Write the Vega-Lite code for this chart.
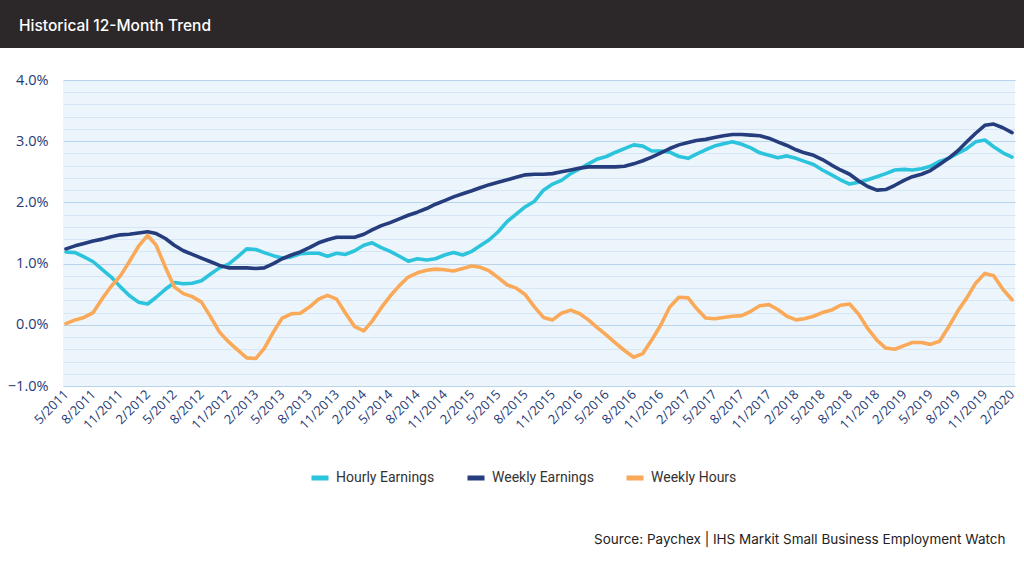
{
  "$schema": "https://vega.github.io/schema/vega-lite/v6.json",
  "autosize": "none",
  "width": 952,
  "height": 306,
  "padding": {"left": 63, "top": 80, "right": 9, "bottom": 176},
  "background": "white",
  "title": {"text": "Historical 12-Month Trend", "anchor": "start", "frame": "group", "color": "#ffffff", "fontSize": 15.5, "font": "Inter", "fontWeight": 500, "baseline": "alphabetic", "offset": -47, "dx": -44},
  "layer": [
    {
      "data": {"values": [
        {"d":"2011-05-01","Hourly Earnings":1.19,"Weekly Earnings":1.24,"Weekly Hours":0.02},
        {"d":"2011-06-01","Hourly Earnings":1.18,"Weekly Earnings":1.29,"Weekly Hours":0.08},
        {"d":"2011-07-01","Hourly Earnings":1.11,"Weekly Earnings":1.33,"Weekly Hours":0.12},
        {"d":"2011-08-01","Hourly Earnings":1.03,"Weekly Earnings":1.37,"Weekly Hours":0.20},
        {"d":"2011-09-01","Hourly Earnings":0.90,"Weekly Earnings":1.40,"Weekly Hours":0.43},
        {"d":"2011-10-01","Hourly Earnings":0.78,"Weekly Earnings":1.44,"Weekly Hours":0.63},
        {"d":"2011-11-01","Hourly Earnings":0.62,"Weekly Earnings":1.47,"Weekly Hours":0.80},
        {"d":"2011-12-01","Hourly Earnings":0.48,"Weekly Earnings":1.48,"Weekly Hours":1.03},
        {"d":"2012-01-01","Hourly Earnings":0.37,"Weekly Earnings":1.50,"Weekly Hours":1.28},
        {"d":"2012-02-01","Hourly Earnings":0.34,"Weekly Earnings":1.52,"Weekly Hours":1.46},
        {"d":"2012-03-01","Hourly Earnings":0.45,"Weekly Earnings":1.49,"Weekly Hours":1.30},
        {"d":"2012-04-01","Hourly Earnings":0.58,"Weekly Earnings":1.41,"Weekly Hours":0.94},
        {"d":"2012-05-01","Hourly Earnings":0.69,"Weekly Earnings":1.30,"Weekly Hours":0.62},
        {"d":"2012-06-01","Hourly Earnings":0.67,"Weekly Earnings":1.21,"Weekly Hours":0.51},
        {"d":"2012-07-01","Hourly Earnings":0.68,"Weekly Earnings":1.15,"Weekly Hours":0.46},
        {"d":"2012-08-01","Hourly Earnings":0.72,"Weekly Earnings":1.09,"Weekly Hours":0.37},
        {"d":"2012-09-01","Hourly Earnings":0.83,"Weekly Earnings":1.03,"Weekly Hours":0.13},
        {"d":"2012-10-01","Hourly Earnings":0.93,"Weekly Earnings":0.97,"Weekly Hours":-0.12},
        {"d":"2012-11-01","Hourly Earnings":0.99,"Weekly Earnings":0.93,"Weekly Hours":-0.28},
        {"d":"2012-12-01","Hourly Earnings":1.11,"Weekly Earnings":0.93,"Weekly Hours":-0.41},
        {"d":"2013-01-01","Hourly Earnings":1.24,"Weekly Earnings":0.93,"Weekly Hours":-0.54},
        {"d":"2013-02-01","Hourly Earnings":1.23,"Weekly Earnings":0.92,"Weekly Hours":-0.55},
        {"d":"2013-03-01","Hourly Earnings":1.18,"Weekly Earnings":0.93,"Weekly Hours":-0.39},
        {"d":"2013-04-01","Hourly Earnings":1.13,"Weekly Earnings":1.00,"Weekly Hours":-0.12},
        {"d":"2013-05-01","Hourly Earnings":1.09,"Weekly Earnings":1.08,"Weekly Hours":0.11},
        {"d":"2013-06-01","Hourly Earnings":1.11,"Weekly Earnings":1.14,"Weekly Hours":0.18},
        {"d":"2013-07-01","Hourly Earnings":1.16,"Weekly Earnings":1.19,"Weekly Hours":0.19},
        {"d":"2013-08-01","Hourly Earnings":1.17,"Weekly Earnings":1.26,"Weekly Hours":0.29},
        {"d":"2013-09-01","Hourly Earnings":1.17,"Weekly Earnings":1.34,"Weekly Hours":0.42},
        {"d":"2013-10-01","Hourly Earnings":1.12,"Weekly Earnings":1.39,"Weekly Hours":0.48},
        {"d":"2013-11-01","Hourly Earnings":1.17,"Weekly Earnings":1.43,"Weekly Hours":0.42},
        {"d":"2013-12-01","Hourly Earnings":1.15,"Weekly Earnings":1.43,"Weekly Hours":0.19},
        {"d":"2014-01-01","Hourly Earnings":1.21,"Weekly Earnings":1.43,"Weekly Hours":-0.03},
        {"d":"2014-02-01","Hourly Earnings":1.30,"Weekly Earnings":1.48,"Weekly Hours":-0.10},
        {"d":"2014-03-01","Hourly Earnings":1.34,"Weekly Earnings":1.55,"Weekly Hours":0.06},
        {"d":"2014-04-01","Hourly Earnings":1.26,"Weekly Earnings":1.62,"Weekly Hours":0.28},
        {"d":"2014-05-01","Hourly Earnings":1.20,"Weekly Earnings":1.67,"Weekly Hours":0.47},
        {"d":"2014-06-01","Hourly Earnings":1.12,"Weekly Earnings":1.73,"Weekly Hours":0.64},
        {"d":"2014-07-01","Hourly Earnings":1.04,"Weekly Earnings":1.79,"Weekly Hours":0.78},
        {"d":"2014-08-01","Hourly Earnings":1.08,"Weekly Earnings":1.84,"Weekly Hours":0.85},
        {"d":"2014-09-01","Hourly Earnings":1.06,"Weekly Earnings":1.90,"Weekly Hours":0.89},
        {"d":"2014-10-01","Hourly Earnings":1.08,"Weekly Earnings":1.97,"Weekly Hours":0.91},
        {"d":"2014-11-01","Hourly Earnings":1.14,"Weekly Earnings":2.03,"Weekly Hours":0.90},
        {"d":"2014-12-01","Hourly Earnings":1.18,"Weekly Earnings":2.09,"Weekly Hours":0.88},
        {"d":"2015-01-01","Hourly Earnings":1.14,"Weekly Earnings":2.14,"Weekly Hours":0.92},
        {"d":"2015-02-01","Hourly Earnings":1.20,"Weekly Earnings":2.19,"Weekly Hours":0.96},
        {"d":"2015-03-01","Hourly Earnings":1.29,"Weekly Earnings":2.24,"Weekly Hours":0.94},
        {"d":"2015-04-01","Hourly Earnings":1.39,"Weekly Earnings":2.29,"Weekly Hours":0.88},
        {"d":"2015-05-01","Hourly Earnings":1.52,"Weekly Earnings":2.33,"Weekly Hours":0.77},
        {"d":"2015-06-01","Hourly Earnings":1.69,"Weekly Earnings":2.37,"Weekly Hours":0.65},
        {"d":"2015-07-01","Hourly Earnings":1.81,"Weekly Earnings":2.41,"Weekly Hours":0.60},
        {"d":"2015-08-01","Hourly Earnings":1.93,"Weekly Earnings":2.45,"Weekly Hours":0.49},
        {"d":"2015-09-01","Hourly Earnings":2.02,"Weekly Earnings":2.46,"Weekly Hours":0.29},
        {"d":"2015-10-01","Hourly Earnings":2.20,"Weekly Earnings":2.46,"Weekly Hours":0.12},
        {"d":"2015-11-01","Hourly Earnings":2.30,"Weekly Earnings":2.47,"Weekly Hours":0.08},
        {"d":"2015-12-01","Hourly Earnings":2.36,"Weekly Earnings":2.50,"Weekly Hours":0.19},
        {"d":"2016-01-01","Hourly Earnings":2.47,"Weekly Earnings":2.53,"Weekly Hours":0.24},
        {"d":"2016-02-01","Hourly Earnings":2.55,"Weekly Earnings":2.56,"Weekly Hours":0.18},
        {"d":"2016-03-01","Hourly Earnings":2.63,"Weekly Earnings":2.58,"Weekly Hours":0.08},
        {"d":"2016-04-01","Hourly Earnings":2.71,"Weekly Earnings":2.58,"Weekly Hours":-0.05},
        {"d":"2016-05-01","Hourly Earnings":2.75,"Weekly Earnings":2.58,"Weekly Hours":-0.17},
        {"d":"2016-06-01","Hourly Earnings":2.82,"Weekly Earnings":2.58,"Weekly Hours":-0.30},
        {"d":"2016-07-01","Hourly Earnings":2.88,"Weekly Earnings":2.59,"Weekly Hours":-0.42},
        {"d":"2016-08-01","Hourly Earnings":2.94,"Weekly Earnings":2.63,"Weekly Hours":-0.53},
        {"d":"2016-09-01","Hourly Earnings":2.92,"Weekly Earnings":2.68,"Weekly Hours":-0.47},
        {"d":"2016-10-01","Hourly Earnings":2.84,"Weekly Earnings":2.74,"Weekly Hours":-0.25},
        {"d":"2016-11-01","Hourly Earnings":2.84,"Weekly Earnings":2.81,"Weekly Hours":0.00},
        {"d":"2016-12-01","Hourly Earnings":2.82,"Weekly Earnings":2.88,"Weekly Hours":0.29},
        {"d":"2017-01-01","Hourly Earnings":2.75,"Weekly Earnings":2.94,"Weekly Hours":0.45},
        {"d":"2017-02-01","Hourly Earnings":2.72,"Weekly Earnings":2.98,"Weekly Hours":0.44},
        {"d":"2017-03-01","Hourly Earnings":2.79,"Weekly Earnings":3.01,"Weekly Hours":0.27},
        {"d":"2017-04-01","Hourly Earnings":2.86,"Weekly Earnings":3.03,"Weekly Hours":0.11},
        {"d":"2017-05-01","Hourly Earnings":2.92,"Weekly Earnings":3.06,"Weekly Hours":0.10},
        {"d":"2017-06-01","Hourly Earnings":2.96,"Weekly Earnings":3.09,"Weekly Hours":0.12},
        {"d":"2017-07-01","Hourly Earnings":2.99,"Weekly Earnings":3.11,"Weekly Hours":0.14},
        {"d":"2017-08-01","Hourly Earnings":2.95,"Weekly Earnings":3.11,"Weekly Hours":0.15},
        {"d":"2017-09-01","Hourly Earnings":2.89,"Weekly Earnings":3.10,"Weekly Hours":0.22},
        {"d":"2017-10-01","Hourly Earnings":2.81,"Weekly Earnings":3.09,"Weekly Hours":0.31},
        {"d":"2017-11-01","Hourly Earnings":2.77,"Weekly Earnings":3.05,"Weekly Hours":0.33},
        {"d":"2017-12-01","Hourly Earnings":2.73,"Weekly Earnings":2.99,"Weekly Hours":0.25},
        {"d":"2018-01-01","Hourly Earnings":2.76,"Weekly Earnings":2.93,"Weekly Hours":0.14},
        {"d":"2018-02-01","Hourly Earnings":2.72,"Weekly Earnings":2.86,"Weekly Hours":0.08},
        {"d":"2018-03-01","Hourly Earnings":2.67,"Weekly Earnings":2.81,"Weekly Hours":0.10},
        {"d":"2018-04-01","Hourly Earnings":2.62,"Weekly Earnings":2.77,"Weekly Hours":0.14},
        {"d":"2018-05-01","Hourly Earnings":2.53,"Weekly Earnings":2.70,"Weekly Hours":0.20},
        {"d":"2018-06-01","Hourly Earnings":2.45,"Weekly Earnings":2.61,"Weekly Hours":0.24},
        {"d":"2018-07-01","Hourly Earnings":2.37,"Weekly Earnings":2.53,"Weekly Hours":0.32},
        {"d":"2018-08-01","Hourly Earnings":2.30,"Weekly Earnings":2.46,"Weekly Hours":0.34},
        {"d":"2018-09-01","Hourly Earnings":2.33,"Weekly Earnings":2.35,"Weekly Hours":0.17},
        {"d":"2018-10-01","Hourly Earnings":2.37,"Weekly Earnings":2.26,"Weekly Hours":-0.06},
        {"d":"2018-11-01","Hourly Earnings":2.42,"Weekly Earnings":2.20,"Weekly Hours":-0.25},
        {"d":"2018-12-01","Hourly Earnings":2.47,"Weekly Earnings":2.21,"Weekly Hours":-0.38},
        {"d":"2019-01-01","Hourly Earnings":2.53,"Weekly Earnings":2.28,"Weekly Hours":-0.40},
        {"d":"2019-02-01","Hourly Earnings":2.54,"Weekly Earnings":2.36,"Weekly Hours":-0.34},
        {"d":"2019-03-01","Hourly Earnings":2.53,"Weekly Earnings":2.42,"Weekly Hours":-0.29},
        {"d":"2019-04-01","Hourly Earnings":2.55,"Weekly Earnings":2.46,"Weekly Hours":-0.29},
        {"d":"2019-05-01","Hourly Earnings":2.59,"Weekly Earnings":2.52,"Weekly Hours":-0.32},
        {"d":"2019-06-01","Hourly Earnings":2.67,"Weekly Earnings":2.62,"Weekly Hours":-0.27},
        {"d":"2019-07-01","Hourly Earnings":2.72,"Weekly Earnings":2.72,"Weekly Hours":-0.04},
        {"d":"2019-08-01","Hourly Earnings":2.80,"Weekly Earnings":2.84,"Weekly Hours":0.22},
        {"d":"2019-09-01","Hourly Earnings":2.88,"Weekly Earnings":2.99,"Weekly Hours":0.44},
        {"d":"2019-10-01","Hourly Earnings":2.99,"Weekly Earnings":3.13,"Weekly Hours":0.68},
        {"d":"2019-11-01","Hourly Earnings":3.02,"Weekly Earnings":3.26,"Weekly Hours":0.84},
        {"d":"2019-12-01","Hourly Earnings":2.91,"Weekly Earnings":3.28,"Weekly Hours":0.80},
        {"d":"2020-01-01","Hourly Earnings":2.81,"Weekly Earnings":3.22,"Weekly Hours":0.58},
        {"d":"2020-02-01","Hourly Earnings":2.74,"Weekly Earnings":3.14,"Weekly Hours":0.41}
      ]},
      "transform": [
        {"fold": ["Hourly Earnings", "Weekly Earnings", "Weekly Hours"], "as": ["series", "value"]}
      ],
      "mark": {"type": "line", "strokeWidth": 3.6, "strokeJoin": "round", "strokeCap": "round"},
      "encoding": {
        "x": {
          "field": "d", "type": "temporal",
          "scale": {"type": "utc", "domain": [{"year": 2011, "month": 4, "date": 21, "utc": true}, {"year": 2020, "month": 2, "date": 11, "utc": true}], "nice": false},
          "axis": {
            "title": "Source: Paychex | IHS Markit Small Business Employment Watch",
            "titleAnchor": "end", "titleAlign": "right", "titleX": 942, "titleY": 157, "titleBaseline": "alphabetic",
            "titleFont": "Inter", "titleFontSize": 13.5, "titleFontWeight": "normal", "titleColor": "#222222",
            "tickCount": 60,
            "values": [
              {"year": 2011, "month": 5, "date": 1, "utc": true}, {"year": 2011, "month": 8, "date": 1, "utc": true}, {"year": 2011, "month": 11, "date": 1, "utc": true},
              {"year": 2012, "month": 2, "date": 1, "utc": true}, {"year": 2012, "month": 5, "date": 1, "utc": true}, {"year": 2012, "month": 8, "date": 1, "utc": true}, {"year": 2012, "month": 11, "date": 1, "utc": true},
              {"year": 2013, "month": 2, "date": 1, "utc": true}, {"year": 2013, "month": 5, "date": 1, "utc": true}, {"year": 2013, "month": 8, "date": 1, "utc": true}, {"year": 2013, "month": 11, "date": 1, "utc": true},
              {"year": 2014, "month": 2, "date": 1, "utc": true}, {"year": 2014, "month": 5, "date": 1, "utc": true}, {"year": 2014, "month": 8, "date": 1, "utc": true}, {"year": 2014, "month": 11, "date": 1, "utc": true},
              {"year": 2015, "month": 2, "date": 1, "utc": true}, {"year": 2015, "month": 5, "date": 1, "utc": true}, {"year": 2015, "month": 8, "date": 1, "utc": true}, {"year": 2015, "month": 11, "date": 1, "utc": true},
              {"year": 2016, "month": 2, "date": 1, "utc": true}, {"year": 2016, "month": 5, "date": 1, "utc": true}, {"year": 2016, "month": 8, "date": 1, "utc": true}, {"year": 2016, "month": 11, "date": 1, "utc": true},
              {"year": 2017, "month": 2, "date": 1, "utc": true}, {"year": 2017, "month": 5, "date": 1, "utc": true}, {"year": 2017, "month": 8, "date": 1, "utc": true}, {"year": 2017, "month": 11, "date": 1, "utc": true},
              {"year": 2018, "month": 2, "date": 1, "utc": true}, {"year": 2018, "month": 5, "date": 1, "utc": true}, {"year": 2018, "month": 8, "date": 1, "utc": true}, {"year": 2018, "month": 11, "date": 1, "utc": true},
              {"year": 2019, "month": 2, "date": 1, "utc": true}, {"year": 2019, "month": 5, "date": 1, "utc": true}, {"year": 2019, "month": 8, "date": 1, "utc": true}, {"year": 2019, "month": 11, "date": 1, "utc": true},
              {"year": 2020, "month": 2, "date": 1, "utc": true}
            ],
            "labelExpr": "utcFormat(datum.value, '%-m/%Y')",
            "labelAngle": -45, "labelAlign": "right", "labelBaseline": "middle", "labelPadding": 6,
            "labelFont": "Open Sans", "labelFontSize": 13, "labelColor": "#1f3b76", "labelOverlap": false, "labelBound": false, "labelFlush": false,
            "ticks": false, "domain": false, "grid": false
          }
        },
        "y": {
          "field": "value", "type": "quantitative",
          "scale": {"domain": [-1, 4], "nice": false, "zero": false},
          "axis": {
            "title": null,
            "tickCount": 60,
            "values": [-1, -0.8, -0.6, -0.4, -0.2, 0, 0.2, 0.4, 0.6, 0.8, 1, 1.2, 1.4, 1.6, 1.8, 2, 2.2, 2.4, 2.6, 2.8, 3, 3.2, 3.4, 3.6, 3.8, 4],
            "labelExpr": "abs(datum.value - round(datum.value)) < 0.001 ? format(datum.value, '.1f') + '%' : ''",
            "labelOverlap": false,
            "labelFont": "Open Sans", "labelFontSize": 14.5, "labelFontWeight": 500, "labelColor": "#1f3b76", "labelPadding": 15,
            "ticks": false, "domain": false, "grid": true, "gridWidth": 1,
            "gridColor": {"condition": {"test": "abs(datum.value - round(datum.value)) < 0.001", "value": "#b9d3ea"}, "value": "#d6e6f5"}
          }
        },
        "color": {
          "field": "series", "type": "nominal",
          "scale": {"domain": ["Hourly Earnings", "Weekly Earnings", "Weekly Hours"], "range": ["#2bc4dc", "#253d7c", "#f9a957"]},
          "legend": {
            "title": null, "orient": "none", "direction": "horizontal", "legendX": 246, "legendY": 387,
            "symbolType": "stroke", "symbolStrokeWidth": 5, "symbolSize": 289,
            "labelFont": "Roboto", "labelFontSize": 14, "labelColor": "#333333", "labelOffset": 5, "columnPadding": 22
          }
        }
      }
    },
    {
      "data": {"values": [{"band": "title"}]},
      "mark": {"type": "rect", "color": "#2c2829", "clip": false},
      "encoding": {
        "x": {"datum": {"year": 2010, "month": 6, "date": 1, "utc": true}, "type": "temporal"},
        "x2": {"datum": {"year": 2020, "month": 6, "date": 1, "utc": true}},
        "y": {"datum": 5.31, "type": "quantitative"},
        "y2": {"datum": 4.523}
      }
    }
  ],
  "config": {
    "view": {"fill": "#edf5fc", "stroke": null},
    "axisX": {"labelOverlap": false},
    "axisY": {"labelOverlap": false}
  }
}
